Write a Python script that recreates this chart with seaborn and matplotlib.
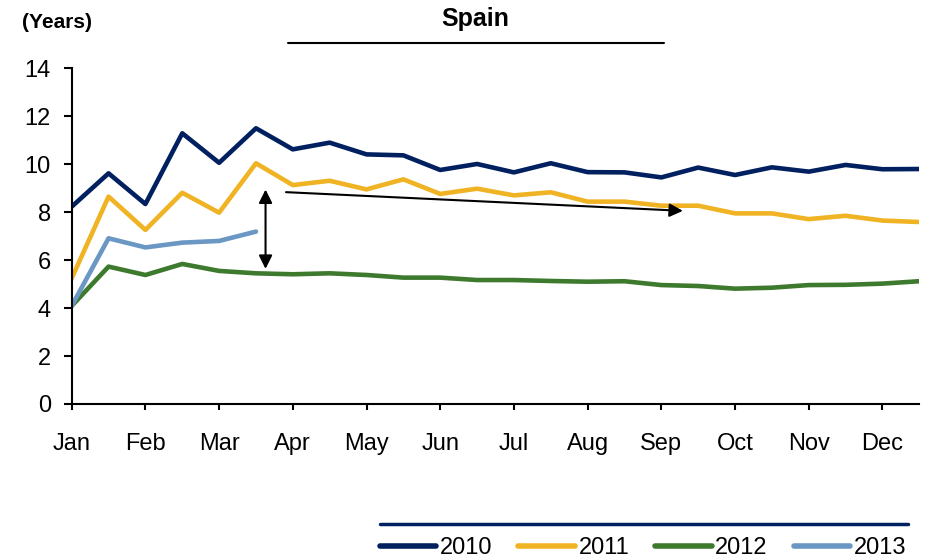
import numpy as np
import pandas as pd
import matplotlib
matplotlib.use("Agg")
import matplotlib.pyplot as plt
import seaborn as sns
from matplotlib.lines import Line2D

# half-monthly readings, Jan .. Dec (24 points)
months = ["Jan", "Feb", "Mar", "Apr", "May", "Jun", "Jul", "Aug", "Sep", "Oct", "Nov", "Dec"]
y2010 = [8.23, 9.62, 8.34, 11.29, 10.06, 11.50, 10.62, 10.90, 10.41, 10.37, 9.76, 10.01,
         9.66, 10.04, 9.67, 9.66, 9.45, 9.86, 9.55, 9.87, 9.69, 9.97, 9.79, 9.80]
y2011 = [5.24, 8.65, 7.26, 8.81, 7.98, 10.04, 9.13, 9.31, 8.95, 9.37, 8.76, 8.98,
         8.70, 8.83, 8.44, 8.44, 8.27, 8.27, 7.95, 7.95, 7.71, 7.85, 7.65, 7.59]
y2012 = [4.09, 5.73, 5.38, 5.84, 5.55, 5.45, 5.41, 5.45, 5.38, 5.27, 5.27, 5.17,
         5.17, 5.13, 5.10, 5.12, 4.96, 4.92, 4.81, 4.85, 4.96, 4.97, 5.02, 5.12]
y2013 = [4.09, 6.91, 6.53, 6.73, 6.80, 7.19]

years = ["2010", "2011", "2012", "2013"]
colors = ["#002060", "#F0B323", "#3E7A2E", "#6A97C4"]

rows = []
for yr, vals in zip(years, [y2010, y2011, y2012, y2013]):
    for i, v in enumerate(vals):
        rows.append({"t": i / 2, "value": v, "year": yr})
df = pd.DataFrame(rows)

sns.set_style("ticks", {"axes.edgecolor": "black", "text.color": "black",
                        "xtick.color": "black", "ytick.color": "black"})
plt.rcParams["font.family"] = ["Liberation Sans", "DejaVu Sans"]

fig = plt.figure(figsize=(9.3, 5.59), dpi=100)
ax = fig.add_axes([0.0771, 0.2773, 0.9885 - 0.0771, 0.8778 - 0.2773])

sns.lineplot(data=df, x="t", y="value", hue="year", palette=colors, linewidth=3.3,
             ax=ax, legend=False, sort=False)

ax.set_xlim(0, 11.5)
ax.set_ylim(0, 14)
ax.set_xticks(range(12))
ax.set_xticklabels(months)
ax.set_yticks(range(0, 15, 2))
ax.tick_params(axis="y", labelsize=17, length=6, width=1.5, pad=9)
ax.tick_params(axis="x", labelsize=17, length=4.5, width=1.5, pad=16.5)
ax.set_xlabel("")
ax.set_ylabel("")
for s in ["top", "right"]:
    ax.spines[s].set_visible(False)
for s in ["left", "bottom"]:
    ax.spines[s].set_linewidth(1.5)

# annotations
ax.annotate("", xy=(2.63, 5.52), xytext=(2.63, 9.06),
            arrowprops=dict(arrowstyle="<|-|>", color="black", lw=1.5, mutation_scale=20))
ax.annotate("", xy=(8.33, 8.05), xytext=(2.87, 8.84),
            arrowprops=dict(arrowstyle="-|>", color="black", lw=1.5, mutation_scale=20))

fig.text(22 / 930, 1 - 23 / 559, "(Years)", fontsize=15, fontweight="bold", va="center")
fig.text(475 / 930, 1 - 19 / 559, "Spain", fontsize=18, fontweight="bold", ha="center", va="center")
fig.add_artist(Line2D([288 / 930, 664 / 930], [1 - 43 / 559, 1 - 43 / 559], color="black", lw=1.5))

# legend
fig.add_artist(Line2D([380 / 930, 908 / 930], [1 - 524 / 559, 1 - 524 / 559], color="#002060", lw=2.5))
handles = [Line2D([0], [0], color=c, lw=4, solid_capstyle="round") for c in colors]
fig.legend(handles, years, loc="center", bbox_to_anchor=(643 / 930, 1 - 548 / 559), ncol=4,
           frameon=False, fontsize=17, handlelength=2.4, handletextpad=0.15, columnspacing=1.1,
           borderpad=0)

fig.savefig("out.png", dpi=100)
